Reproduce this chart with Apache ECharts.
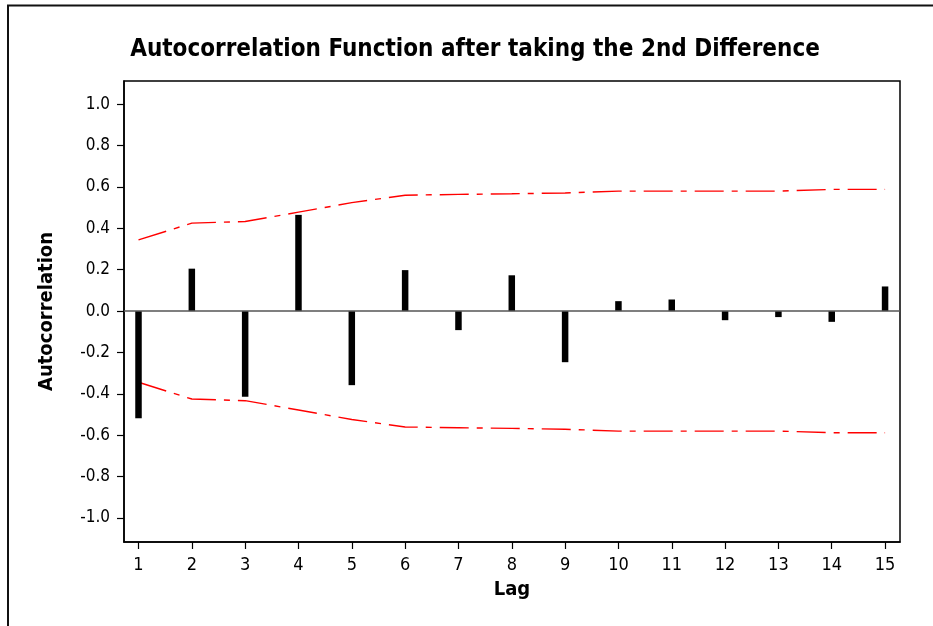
<!DOCTYPE html>
<html>
<head>
<meta charset="utf-8">
<style>
  html, body { margin: 0; padding: 0; background: #fff; }
  #chart { width: 933px; height: 626px; }
</style>
<script src="https://cdn.jsdelivr.net/npm/echarts@6/dist/echarts.min.js"></script>
</head>
<body>
<div id="chart"></div>
<script>
// ACF of the twice-differenced series, lags 1..15
const lags = [1, 2, 3, 4, 5, 6, 7, 8, 9, 10, 11, 12, 13, 14, 15];
const acf = [-0.518, 0.205, -0.414, 0.465, -0.358, 0.198, -0.092, 0.173, -0.247, 0.048, 0.056, -0.044, -0.029, -0.052, 0.119];
// 95% significance limits (upper; lower is the mirror)
const upperLimit = [0.344, 0.425, 0.433, 0.478, 0.524, 0.560, 0.564, 0.567, 0.571, 0.580, 0.580, 0.580, 0.580, 0.588, 0.588];
const lowerLimit = upperLimit.map(v => -v);
const yTicks = [-1.0, -0.8, -0.6, -0.4, -0.2, 0.0, 0.2, 0.4, 0.6, 0.8, 1.0];

const FONT = '"DejaVu Sans Condensed", "DejaVu Sans", sans-serif';

const chart = echarts.init(document.getElementById('chart'), null, { renderer: 'canvas' });

const limitStyle = {
  color: '#ff0000',
  width: 1.4,
  type: [29, 8, 6, 8]
};

chart.setOption({
  animation: false,
  backgroundColor: '#ffffff',
  graphic: [
    {
      type: 'rect',
      shape: { x: 8, y: 5.5, width: 940, height: 640 },
      style: { fill: null, stroke: '#111', lineWidth: 2 },
      silent: true
    },
    {
      type: 'text',
      x: 475, y: 50,
      style: {
        text: 'Autocorrelation Function after taking the 2nd Difference',
        font: 'bold 24px ' + FONT,
        fill: '#000',
        textAlign: 'center',
        textVerticalAlign: 'middle'
      },
      silent: true
    }
  ],
  grid: {
    left: 124, right: 33, top: 81, bottom: 84,
    show: true, borderColor: '#000', borderWidth: 1.5
  },
  xAxis: {
    type: 'value',
    min: 0.728, max: 15.28,
    name: 'Lag',
    nameLocation: 'middle',
    nameGap: 38,
    nameTextStyle: { fontFamily: FONT, fontSize: 20, fontWeight: 'bold', color: '#000' },
    axisLine: { show: true, onZero: false, lineStyle: { color: '#000', width: 1.5 } },
    axisTick: { show: true, length: 7, lineStyle: { color: '#000', width: 1.2 }, customValues: lags },
    axisLabel: { fontFamily: FONT, fontSize: 18, color: '#000', margin: 14, customValues: lags },
    splitLine: { show: false }
  },
  yAxis: {
    type: 'value',
    min: -1.116, max: 1.112,
    name: 'Autocorrelation',
    nameLocation: 'middle',
    nameGap: 67,
    nameTextStyle: { fontFamily: FONT, fontSize: 20, fontWeight: 'bold', color: '#000' },
    axisLine: { show: true, onZero: false, lineStyle: { color: '#000', width: 1.5 } },
    axisTick: { show: true, length: 7, lineStyle: { color: '#000', width: 1.2 }, customValues: yTicks },
    axisLabel: {
      fontFamily: FONT, fontSize: 17, color: '#000', margin: 14,
      customValues: yTicks,
      formatter: v => v.toFixed(1)
    },
    splitLine: { show: false }
  },
  series: [
    {
      type: 'bar',
      data: lags.map((l, i) => [l, acf[i]]),
      barWidth: 6.5,
      itemStyle: { color: '#000' },
      markLine: {
        silent: true,
        symbol: 'none',
        label: { show: false },
        lineStyle: { color: '#555', width: 1.5, type: 'solid' },
        data: [{ yAxis: 0 }]
      },
      z: 3
    },
    {
      type: 'line',
      data: lags.map((l, i) => [l, upperLimit[i]]),
      symbol: 'none',
      lineStyle: limitStyle,
      z: 2
    },
    {
      type: 'line',
      data: lags.map((l, i) => [l, lowerLimit[i]]),
      symbol: 'none',
      lineStyle: limitStyle,
      z: 2
    }
  ]
});
</script>
</body>
</html>
